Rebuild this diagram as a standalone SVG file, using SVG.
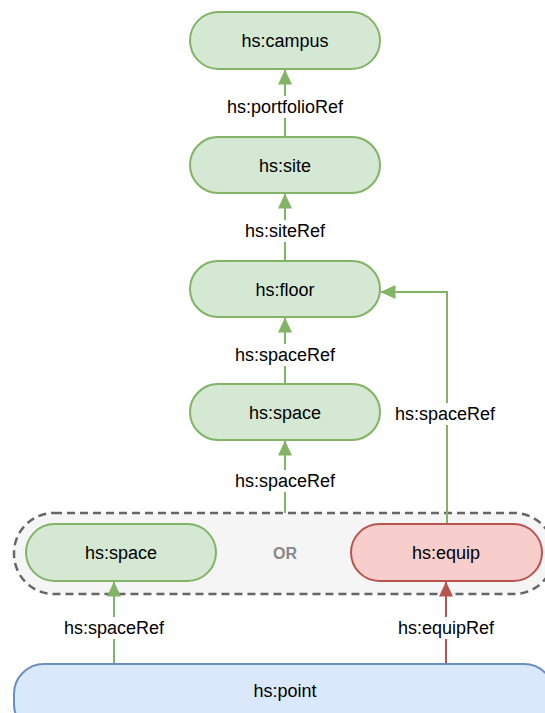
<svg xmlns="http://www.w3.org/2000/svg" width="545" height="713" viewBox="0 0 545 713">
  <style>
    .lbl { font-family: "Liberation Sans", Arial, sans-serif; font-size: 18px; fill: #000; text-anchor: middle; dominant-baseline: central; }
    .green { fill: #d5e8d4; stroke: #82b366; stroke-width: 2; }
    .red { fill: #f8cecc; stroke: #b85450; stroke-width: 2; }
    .blue { fill: #dae8fc; stroke: #6c8ebf; stroke-width: 2; }
    .eg { stroke: #82b366; stroke-width: 2; fill: none; }
    .er { stroke: #b85450; stroke-width: 2; fill: none; }
    .bg { fill: #ffffff; }
  </style>
  <defs>
    <marker id="ahG" viewBox="0 0 15 14" refX="14.5" refY="7" markerWidth="15" markerHeight="14" markerUnits="userSpaceOnUse" orient="auto">
      <path d="M0,0 L15,7 L0,14 Z" fill="#82b366"/>
    </marker>
    <marker id="ahR" viewBox="0 0 15 14" refX="14.5" refY="7" markerWidth="15" markerHeight="14" markerUnits="userSpaceOnUse" orient="auto">
      <path d="M0,0 L15,7 L0,14 Z" fill="#b85450"/>
    </marker>
  </defs>

  <rect width="545" height="713" fill="#ffffff"/>

  <!-- OR container -->
  <g id="or-group">
    <rect x="14" y="513" width="540" height="81" rx="40" fill="#f5f5f5" stroke="#666666" stroke-width="2.5" stroke-dasharray="8,5"/>
    <text x="285" y="553" style="font-family:'Liberation Sans',Arial,sans-serif;font-size:16px;font-weight:bold;fill:#888888;text-anchor:middle;dominant-baseline:central">OR</text>
  </g>

  <!-- connectors -->
  <g id="connectors">
    <path class="eg" d="M285,137 L285,70" marker-end="url(#ahG)"/>
    <path class="eg" d="M285,261 L285,194" marker-end="url(#ahG)"/>
    <path class="eg" d="M285,384 L285,318" marker-end="url(#ahG)"/>
    <path class="eg" d="M285,513 L285,441" marker-end="url(#ahG)"/>
    <path class="eg" d="M447,524 L447,292 L381,292" marker-end="url(#ahG)"/>
    <path class="eg" d="M114,664 L114,582" marker-end="url(#ahG)"/>
    <path class="er" d="M446,664 L446,582" marker-end="url(#ahR)"/>

    <rect class="bg" x="218" y="96" width="134" height="22"/>
    <text class="lbl" x="285" y="107">hs:portfolioRef</text>
    <rect class="bg" x="238" y="220" width="94" height="22"/>
    <text class="lbl" x="285" y="231">hs:siteRef</text>
    <rect class="bg" x="230" y="344" width="110" height="22"/>
    <text class="lbl" x="285" y="355">hs:spaceRef</text>
    <rect class="bg" x="230" y="470" width="110" height="22"/>
    <text class="lbl" x="285" y="481">hs:spaceRef</text>
    <rect class="bg" x="390" y="403" width="112" height="22"/>
    <text class="lbl" x="445" y="414">hs:spaceRef</text>
    <rect class="bg" x="58" y="617" width="112" height="22"/>
    <text class="lbl" x="114" y="628">hs:spaceRef</text>
    <rect class="bg" x="392" y="617" width="108" height="22"/>
    <text class="lbl" x="446" y="628">hs:equipRef</text>
  </g>

  <g id="campus">
    <rect class="green" x="190" y="12" width="190" height="57" rx="28.5"/>
    <text class="lbl" x="285" y="41">hs:campus</text>
  </g>
  <g id="site">
    <rect class="green" x="190" y="137" width="190" height="56" rx="28"/>
    <text class="lbl" x="285" y="166">hs:site</text>
  </g>
  <g id="floor">
    <rect class="green" x="190" y="261" width="190" height="56" rx="28"/>
    <text class="lbl" x="285" y="290">hs:floor</text>
  </g>
  <g id="space">
    <rect class="green" x="190" y="384" width="190" height="56" rx="28"/>
    <text class="lbl" x="285" y="413">hs:space</text>
  </g>
  <g id="space-or">
    <rect class="green" x="26" y="524" width="190" height="57" rx="28.5"/>
    <text class="lbl" x="121" y="553">hs:space</text>
  </g>
  <g id="equip">
    <rect class="red" x="351" y="524" width="191" height="57" rx="28.5"/>
    <text class="lbl" x="446" y="553">hs:equip</text>
  </g>
  <g id="point">
    <rect class="blue" x="14" y="664" width="540" height="70" rx="30"/>
    <text class="lbl" x="285" y="691">hs:point</text>
  </g>
</svg>
